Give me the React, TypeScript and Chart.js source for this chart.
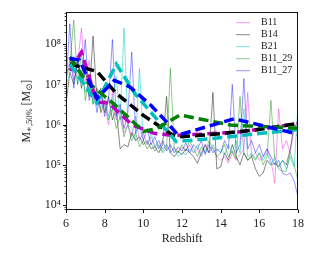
import { useEffect, useRef } from "react";
import { Chart, registerables } from "chart.js";

Chart.register(...registerables);

// ---------- data ----------
const seriesLabels = ["B11", "B14", "B21", "B11_29", "B11_27"];

const redshifts = [
  6.0, 6.2, 6.4, 6.6, 6.8, 7.0, 7.2, 7.4, 7.6, 7.8,
  8.0, 8.2, 8.4, 8.6, 8.8, 9.0, 9.2, 9.4, 9.6, 9.8,
  10.0, 10.2, 10.4, 10.6, 10.8, 11.0, 11.2, 11.4, 11.6, 11.8,
  12.0, 12.2, 12.4, 12.6, 12.8, 13.0, 13.2, 13.4, 13.6, 13.8,
  14.0, 14.2, 14.4, 14.6, 14.8, 15.0, 15.2, 15.4, 15.6, 15.8,
  16.0, 16.2, 16.4, 16.6, 16.8, 17.0, 17.2, 17.4, 17.6, 17.8,
  18.0,
];

const b11Mass = [
  1.6e7, 4e7, 1.3e7, 3.2e7, 2.5e8, 1e7, 4e7, 4e6, 8e6, 2e6,
  3.2e6, 1e6, 6.3e6, 1.3e6, 2.5e6, 6.3e5, 1e6, 5e5, 1.6e6, 4e5,
  6.3e5, 3.2e5, 5e5, 2.8e5, 4e5, 2.5e5, 3.2e5, 2e5, 2.8e5, 2e5,
  2.8e5, 2.2e5, 3.2e5, 2e5, 2.5e5, 1.6e5, 3.2e5, 2e5, 2.8e5, 1.6e5,
  1.3e5, 1.6e5, 1.1e5, 2e5, 1.3e5, 1.8e5, 2.5e5, 6.3e6, 1.6e5, 2e5,
  1.3e5, 1.6e5, 2.5e5, 1.3e5, 3.5e4, 2.5e6, 2.5e5, 4e5, 2e5, 8e5,
  1.3e6,
];

const b14Mass = [
  3.2e6, 2e7, 1e7, 4e7, 8e6, 2.5e7, 5e6, 1.6e8, 4e6, 8e6,
  2e6, 5e6, 1.3e6, 2.5e6, 2.5e5, 3.2e5, 2.8e5, 6.3e5, 4e5, 5e5,
  3.2e5, 4e5, 2.5e5, 2.8e5, 2e5, 3.2e5, 5e6, 2e5, 1.6e5, 2.2e5,
  1.8e5, 2.5e5, 2e5, 1.6e5, 1.1e5, 2e5, 3.2e5, 2e5, 6.3e6, 8e4,
  9e4, 2e5, 1.3e5, 3.2e5, 1.6e5, 1e5, 2e5, 1.3e5, 1.6e5, 8e4,
  5.2e4, 6.3e4, 1.3e5, 1e5, 1.1e5, 9e4, 1.3e5, 1e5, 2.5e5, 1e6,
  8e5,
];

const b21Mass = [
  8e6, 2e7, 5e7, 1e7, 2e7, 6.3e6, 1.3e7, 3.2e6, 6.3e6, 2.5e6,
  5e6, 1.6e6, 4e6, 1.6e7, 1.3e6, 2.5e8, 1e6, 8e5, 4e5, 2.5e7,
  4e5, 3.2e5, 6.3e5, 2.8e5, 4e5, 2.2e5, 3.2e5, 2e5, 2.5e5, 1.6e5,
  2e5, 1.8e5, 2.5e5, 2e5, 3.2e5, 1.8e5, 2.5e5, 2e5, 3.2e5, 2.2e5,
  2.5e5, 1.8e5, 3.2e5, 2e5, 4e5, 2e5, 2.5e6, 1.6e5, 2e5, 1.4e5,
  2e5, 1.3e5, 2e5, 1e5, 1.6e5, 9e4, 1.3e5, 8e4, 1.6e5, 9e4,
  3.2e6,
];

const b1129Mass = [
  1.3e7, 3.2e7, 4e8, 1e7, 6.3e7, 4e6, 1.6e7, 3.2e6, 8e6, 2e6,
  4e6, 1.3e6, 2.5e6, 8e5, 1.6e6, 5e5, 1e6, 4e5, 6.3e5, 2.8e5,
  4e5, 2.5e5, 3.5e5, 2.2e5, 3.2e5, 2e5, 2.5e5, 2.5e7, 2.5e5, 2e5,
  3.2e5, 2.2e5, 4e5, 2.5e5, 1.6e5, 2.8e5, 2e5, 4e5, 2.5e5, 1.6e5,
  2e5, 3.2e5, 1.6e5, 2.2e5, 1.4e5, 5e6, 2e5, 1.3e5, 1.8e5, 1.3e5,
  2e5, 1e5, 1.6e5, 4e6, 1.3e5, 8e4, 7e4, 7e4, 2e5, 1e5,
  4e4,
];

const b1127Mass = [
  1e7, 3.2e8, 8e6, 4e7, 1.6e7, 1.3e8, 4e6, 1e7, 2e6, 6.3e6,
  1.6e6, 4e6, 1.3e8, 1.6e6, 3.2e6, 8e5, 2e6, 6.3e7, 6.3e5, 1e6,
  4e5, 8e5, 3.2e5, 5e5, 2.5e5, 4e5, 2.2e5, 3.2e5, 2e5, 2.8e5,
  2.2e5, 3.5e5, 2e5, 3.2e5, 2.5e5, 4e5, 1.8e5, 3.2e5, 2e5, 2.5e5,
  2e5, 4e5, 2.5e5, 1e7, 2e5, 3.2e5, 1.4e7, 2.5e5, 4e5, 2e5,
  3.2e5, 1.6e5, 2.5e5, 1.6e5, 1e5, 1.3e5, 6.3e4, 5.6e4, 6.3e4, 4e4,
  1.6e4,
];

// binned (dashed) curves
const b11BinZ = [6.2, 6.8, 7.6, 8.2, 9.4, 10.6, 11.6, 13.0, 15.0, 17.0, 18.0];
const b11BinMass = [2.2e7, 6.3e7, 3.6e6, 3.5e6, 1e6, 6e5, 5.4e5, 5.8e5, 6.6e5, 9e5, 1.05e6];

const b14BinZ = [6.2, 7.6, 8.6, 10.0, 11.5, 12.0, 14.0, 16.0, 18.0];
const b14BinMass = [3.2e7, 2.1e7, 6e6, 1.7e6, 5.6e5, 5e5, 6e5, 7.6e5, 1.07e6];

const b21BinZ = [6.2, 7.6, 8.6, 9.6, 11.7, 13.5, 16.0, 18.0];
const b21BinMass = [3.2e7, 3.5e6, 3.2e7, 5.6e6, 3.8e5, 4.5e5, 6e5, 7.6e5];

const b1129BinZ = [6.2, 7.0, 8.5, 10.0, 10.7, 11.9, 14.5, 18.0];
const b1129BinMass = [4.8e7, 1.26e7, 3.2e6, 6.8e5, 8e5, 1.74e6, 9.8e5, 8.1e5];

const b1127BinZ = [6.2, 6.7, 7.6, 8.5, 9.3, 10.4, 11.2, 11.8, 14.7, 18.0];
const b1127BinMass = [4.4e7, 4e7, 4.5e6, 1.26e7, 8.7e6, 3e6, 1.17e6, 5.5e5, 1.4e6, 5.8e5];

const xTickValues = [6, 8, 10, 12, 14, 16, 18];
const yDecades = [4, 5, 6, 7, 8];
const supDigits: Record<string, string> = { "4": "⁴", "5": "⁵", "6": "⁶", "7": "⁷", "8": "⁸" };

// ---------- styles ----------
const thinColors = [
  "rgba(235, 60, 235, 0.5)",
  "rgba(40, 40, 40, 0.55)",
  "rgba(0, 200, 200, 0.5)",
  "rgba(0, 140, 0, 0.45)",
  "rgba(20, 20, 255, 0.45)",
];
const dashColors = ["#c000c0", "#000000", "#00bfbf", "#008000", "#0000ff"];

const SERIF = "'Liberation Serif', 'DejaVu Serif', serif";

export default function App() {
  const canvasRef = useRef<HTMLCanvasElement | null>(null);

  useEffect(() => {
    if (!canvasRef.current) return;
    const thin = [b11Mass, b14Mass, b21Mass, b1129Mass, b1127Mass];
    const binZ = [b11BinZ, b14BinZ, b21BinZ, b1129BinZ, b1127BinZ];
    const binM = [b11BinMass, b14BinMass, b21BinMass, b1129BinMass, b1127BinMass];

    const datasets: any[] = [];
    thin.forEach((arr, i) => {
      datasets.push({
        label: seriesLabels[i],
        data: redshifts.map((z, k) => ({ x: z, y: arr[k] })),
        borderColor: thinColors[i],
        borderWidth: 1,
        pointRadius: 0,
        tension: 0,
        fill: false,
        order: 20 - i,
      });
    });
    binZ.forEach((zs, i) => {
      datasets.push({
        label: seriesLabels[i] + " binned",
        data: zs.map((z, k) => ({ x: z, y: binM[i][k] })),
        borderColor: dashColors[i],
        borderWidth: 3.5,
        borderDash: [10, 5],
        borderCapStyle: "butt",
        pointRadius: 0,
        tension: 0,
        fill: false,
        order: 10 - i,
      });
    });

    const overlay = {
      id: "overlay",
      afterDraw(chart: any) {
        const { ctx, chartArea: a, scales } = chart;
        ctx.save();
        ctx.strokeStyle = "#111";
        ctx.lineWidth = 1;
        const L = Math.round(a.left) + 0.5;
        const R = Math.round(a.right) - 0.5;
        const T = Math.round(a.top) + 0.5;
        const B = Math.round(a.bottom) - 0.5;
        ctx.strokeRect(L, T, R - L, B - T);
        // y ticks
        const ys = scales.y;
        ys.ticks.forEach((t: any) => {
          const v = t.value;
          const lg = Math.log10(v);
          const major = Math.abs(lg - Math.round(lg)) < 1e-6;
          const p = Math.round(ys.getPixelForValue(v)) + 0.5;
          if (p < a.top - 0.5 || p > a.bottom + 0.5) return;
          ctx.beginPath();
          ctx.lineWidth = major ? 1 : 0.8;
          ctx.moveTo(L - (major ? 3.5 : 2), p);
          ctx.lineTo(L, p);
          ctx.stroke();
        });
        // x ticks
        const xs = scales.x;
        xTickValues.forEach((v) => {
          const p = Math.round(xs.getPixelForValue(v)) + 0.5;
          ctx.beginPath();
          ctx.lineWidth = 1;
          ctx.moveTo(p, B);
          ctx.lineTo(p, B + 3.5);
          ctx.stroke();
        });
        // legend
        ctx.font = "10px " + SERIF;
        ctx.textBaseline = "middle";
        ctx.textAlign = "left";
        seriesLabels.forEach((lab, i) => {
          const y = a.top + 10.5 + 12 * i;
          ctx.beginPath();
          ctx.strokeStyle = thinColors[i];
          ctx.lineWidth = 1;
          ctx.moveTo(a.right - 62, y);
          ctx.lineTo(a.right - 48, y);
          ctx.stroke();
          ctx.fillStyle = "#222";
          ctx.fillText(lab, a.right - 37, y);
        });
        // y title with subscripts
        const parts = [
          { t: "M", s: 12, dy: 0 },
          { t: "∗,50%", s: 8.5, dy: 2.5 },
          { t: " [M", s: 12, dy: 0 },
          { t: "⊙", s: 8.5, dy: 2.5 },
          { t: "]", s: 12, dy: 0 },
        ];
        let total = 0;
        parts.forEach((p) => {
          ctx.font = p.s + "px " + SERIF;
          total += ctx.measureText(p.t).width;
        });
        ctx.translate(27, (a.top + a.bottom) / 2);
        ctx.rotate(-Math.PI / 2);
        ctx.fillStyle = "#222";
        ctx.textBaseline = "middle";
        let x = -total / 2;
        parts.forEach((p) => {
          ctx.font = p.s + "px " + SERIF;
          ctx.fillText(p.t, x, p.dy);
          x += ctx.measureText(p.t).width;
        });
        ctx.restore();
      },
    };

    const chart = new Chart(canvasRef.current, {
      type: "line",
      data: { datasets },
      options: {
        responsive: false,
        animation: false,
        devicePixelRatio: 1,
        layout: { padding: { left: 0, right: 33, top: 12, bottom: 0 } },
        plugins: {
          legend: { display: false },
          tooltip: { enabled: false },
        },
        scales: {
          x: {
            type: "linear",
            min: 6,
            max: 18,
            afterBuildTicks: (s: any) => {
              s.ticks = xTickValues.map((v) => ({ value: v }));
            },
            ticks: {
              autoSkip: false,
              maxRotation: 0,
              padding: 7,
              color: "#222",
              font: { family: SERIF, size: 12 },
              callback: (v: any) => String(v),
            },
            grid: { display: false, drawTicks: false },
            border: { display: false },
            title: {
              display: true,
              text: "Redshift",
              color: "#222",
              font: { family: SERIF, size: 12 },
              padding: { top: 0, bottom: 7 },
            },
            afterFit: (s: any) => {
              s.height = 43;
            },
          },
          y: {
            type: "logarithmic",
            min: 7.6e3,
            max: 6.2e8,
            afterBuildTicks: (s: any) => {
              const ticks: any[] = [];
              for (let d = 3; d <= 8; d++) {
                for (let m = 1; m <= 9; m++) {
                  const v = m * Math.pow(10, d);
                  if (v >= 7.6e3 && v <= 6.2e8) ticks.push({ value: v, major: m === 1 });
                }
              }
              s.ticks = ticks;
            },
            ticks: {
              autoSkip: false,
              padding: 5,
              color: "#222",
              font: { family: SERIF, size: 12 },
              callback: (v: any) => {
                const lg = Math.log10(Number(v));
                const r = Math.round(lg);
                if (Math.abs(lg - r) < 1e-6 && yDecades.includes(r)) return "10" + supDigits[String(r)];
                return "";
              },
            },
            grid: { display: false, drawTicks: false },
            border: { display: false },
            afterFit: (s: any) => {
              s.width = 66;
            },
          },
        },
      },
      plugins: [overlay],
    });
    return () => chart.destroy();
  }, []);

  return (
    <div style={{ position: "fixed", left: 0, top: 0, width: 331, height: 253, background: "#fff" }}>
      <canvas ref={canvasRef} width={331} height={253} style={{ display: "block", width: 331, height: 253 }} />
    </div>
  );
}
